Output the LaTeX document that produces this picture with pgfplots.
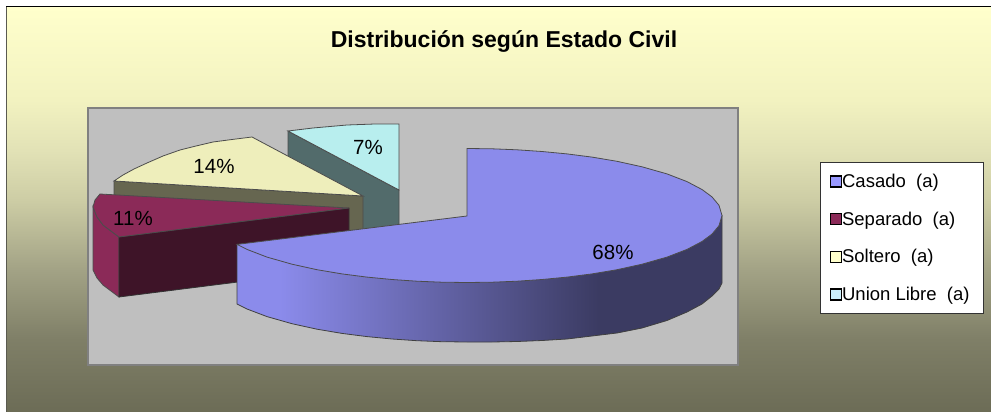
\documentclass[border=0pt]{standalone}
\usepackage{pgfplots}
\pgfplotsset{compat=1.18}
\usepackage{fontspec}
\setmainfont{Liberation Sans}
\definecolor{blueTop}{HTML}{8B8BEB}
\definecolor{blueDark}{HTML}{3B3B62}
\definecolor{plumTop}{HTML}{8B2A58}
\definecolor{plumDark}{HTML}{3E1428}
\definecolor{creamTop}{HTML}{EEEEBB}
\definecolor{creamDark}{HTML}{666650}
\definecolor{aquaTop}{HTML}{B8EEEE}
\definecolor{aquaDark}{HTML}{526B6B}
\definecolor{bgA}{HTML}{FFFFCC}
\definecolor{bgB}{HTML}{F2F2C0}
\definecolor{bgC}{HTML}{E2E2B6}
\definecolor{bgD}{HTML}{CDCDA5}
\definecolor{bgE}{HTML}{A2A285}
\definecolor{bgF}{HTML}{7F7F67}
\definecolor{bgG}{HTML}{6C6C56}
\definecolor{leftEdge}{HTML}{5A5A50}
\pgfdeclareverticalshading{chartbg}{100bp}{color(0bp)=(bgG); color(25bp)=(bgG); color(33.9bp)=(bgF); color(42.5bp)=(bgE); color(51.2bp)=(bgD); color(57.3bp)=(bgC); color(63.5bp)=(bgB); color(75bp)=(bgA); color(100bp)=(bgA)}
\pgfdeclarehorizontalshading{bluewall}{100bp}{color(0bp)=(blueTop); color(29.4bp)=(blueTop); color(62.3bp)=(blueDark); color(100bp)=(blueDark)}
\newcommand{\legimg}[1]{\addlegendimage{legend image code/.code={\draw[line width=1.6pt,black,fill=#1] (-0.5pt,-5.5pt) rectangle (10.5pt,5.5pt);}}}
\begin{document}
\begin{tikzpicture}
\begin{axis}[
  width=991pt, height=412pt, scale only axis,
  hide axis, xmin=0, xmax=991, ymin=0, ymax=412, y dir=reverse,
  legend style={at={(axis cs:820,162)}, anchor=north west, draw=black!80, line width=1pt,
    fill=white, font=\fontsize{18.5}{22}\selectfont, inner xsep=9pt, inner ysep=11.5pt,
    row sep=22.8pt, legend cell align=left, nodes={inner sep=0pt, anchor=west},
    /tikz/every even column/.append style={column sep=8pt}},
]
% chart area
\addplot[forget plot, draw=none, fill=white] coordinates {(0,0)(991,0)(991,412)(0,412)} --cycle;
\addplot[forget plot, draw=none, shade, shading=chartbg] coordinates {(7,7)(991,7)(991,412)(7,412)} --cycle;
\addplot[forget plot, draw=leftEdge, line width=1.5pt] coordinates {(6.6,412)(6.6,6)};
\addplot[forget plot, draw=black, line width=1.5pt] coordinates {(6,6.5)(991,6.5)};
% plot area
\addplot[forget plot, draw=gray, fill=black!25, line width=2pt] coordinates {(88,108)(738,108)(738,365)(88,365)} --cycle;
% Union Libre
\addplot[forget plot, draw=black!70, fill=aquaDark, line width=.8pt] coordinates {(288,131)(399,190)(399,250)(288,191)} --cycle;
\addplot[forget plot, draw=black!70, fill=aquaTop, line width=.8pt] coordinates {(288,131)(313,128)(347,125)(375,124)(399,124)(399,190)} --cycle;
% Soltero
\addplot[forget plot, draw=black!70, fill=creamDark, line width=.8pt] coordinates {(114,181)(363,196)(363,260)(114,245)} --cycle;
\addplot[forget plot, draw=black!70, fill=creamTop, line width=.8pt] coordinates {(252,137)(232,139.5)(213,142)(196,146)(180,150)(163,156)(147,163)(134,169)(123,175)(114,181)(363,196)} --cycle;
% Separado
\addplot[forget plot, draw=black!70, fill=plumTop, line width=.8pt] coordinates {(93,207)(97,217)(103,225)(119,237)(119,297)(103,285)(97,278)(93,270)} --cycle;
\addplot[forget plot, draw=black!80, fill=plumDark, line width=.8pt] coordinates {(119,237)(349,208)(349,268)(119,297)} --cycle;
\addplot[forget plot, draw=black!70, fill=plumTop, line width=.8pt] coordinates {(100,194)(95,200)(93,207)(97,217)(103,225)(119,237)(349,208)} --cycle;
% Casado
\addplot[forget plot, draw=black!75, line width=.8pt, shade, shading=bluewall] coordinates {
 (237,244.4)(237,304)(247,309)(267,316.6)(292,323.7)(317,329.2)(342,333.4)(367,336.6)(392,339)(417,340.7)(442,341.7)(467,342)
 (492,342)(517,341.5)(542,340.5)(567,339)(592,336)(617,333)(642,328)(667,320.5)(687,312)(702,304)(712,296)(719,289)(722,283)(722,215.5)} --cycle;
\addplot[forget plot, draw=black!70, fill=blueTop, line width=.8pt] coordinates {
 (467,148.5)(492,148.8)(517,149.8)(542,151.5)(567,153.9)(592,157.1)(617,161.3)(642,166.8)(667,173.9)(687,181.6)(702,189.5)(712,196.9)(719,205.3)(722,215.5)
 (719,225.7)(712,234.1)(702,241.5)(687,249.4)(667,257.1)(642,264.2)(617,269.7)(592,273.9)(567,277.1)(542,279.5)(517,281.2)(492,282.2)(467,282.5)
 (442,282.2)(417,281.2)(392,279.5)(367,277.1)(342,273.9)(317,269.7)(292,264.2)(267,257.1)(247,249.4)(237,244.4)(467,216)} --cycle;
% legend
\legimg{blue!40!white!100}\addlegendentry{Casado\ \ (a)}
\legimg{plumTop}\addlegendentry{Separado\ \ (a)}
\legimg{bgA}\addlegendentry{Soltero\ \ (a)}
\legimg{cyan!20}\addlegendentry{Union Libre\ \ (a)\hspace*{5pt}}
% text
\node[font=\bfseries\fontsize{23}{27}\selectfont, anchor=base] at (axis cs:504,48) {Distribución según Estado Civil};
\node[font=\fontsize{20.5}{24}\selectfont] at (axis cs:613,252) {68\%};
\node[font=\fontsize{20.5}{24}\selectfont] at (axis cs:214,166) {14\%};
\node[font=\fontsize{20.5}{24}\selectfont] at (axis cs:133,218) {11\%};
\node[font=\fontsize{20.5}{24}\selectfont] at (axis cs:368,147) {7\%};
\end{axis}
\end{tikzpicture}
\end{document}
